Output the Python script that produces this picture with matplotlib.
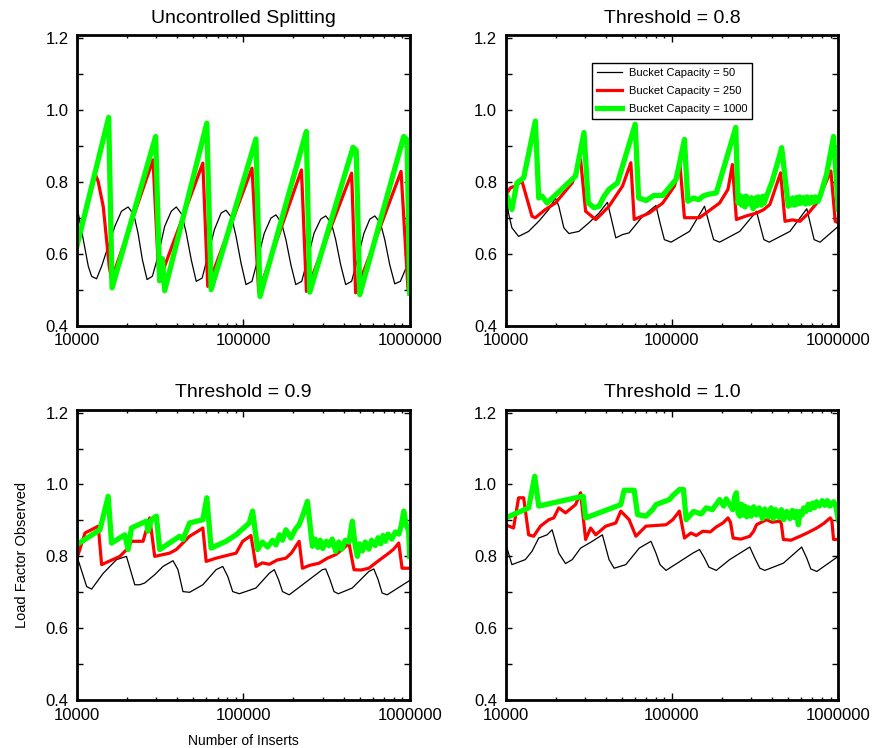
import matplotlib
matplotlib.use('Agg')
import matplotlib.pyplot as plt
from matplotlib.ticker import MultipleLocator, LogLocator, FuncFormatter, NullFormatter

plt.rcParams['font.family'] = ['Liberation Sans', 'DejaVu Sans']

titles = ['Uncontrolled Splitting', 'Threshold = 0.8', 'Threshold = 0.9', 'Threshold = 1.0']
capacities = [50, 250, 1000]

#//Uncontrolled splitting
tl_x_50 = [10000, 10910, 11690, 12240, 13110, 14060, 15410, 16880, 18510, 20290, 21950, 23280, 24720, 26370, 28380,
           30690, 33650, 36890, 39520, 42730, 45370, 48620, 52090, 56520, 61100, 67000, 73500, 78700, 85100, 90400,
           96800, 103700, 112700, 121900, 133600, 146500, 157000, 169800, 180200, 193100, 206600, 224400, 242700,
           266100, 291700, 312600, 338100, 358900, 384600, 412100, 447500, 484200, 530900, 575500, 616600, 666800,
           707900, 758600, 812800, 879000, 941900, 1000000]
tl_y_50 = [0.731, 0.639, 0.565, 0.537, 0.530, 0.565, 0.621, 0.676, 0.718, 0.730, 0.709, 0.657, 0.583, 0.528, 0.537,
           0.593, 0.676, 0.718, 0.730, 0.709, 0.657, 0.583, 0.523, 0.532, 0.593, 0.667, 0.713, 0.721, 0.700, 0.648,
           0.574, 0.514, 0.523, 0.583, 0.657, 0.699, 0.708, 0.685, 0.639, 0.569, 0.514, 0.523, 0.583, 0.657, 0.696,
           0.705, 0.685, 0.639, 0.569, 0.514, 0.523, 0.583, 0.657, 0.696, 0.705, 0.685, 0.639, 0.569, 0.516, 0.523,
           0.556, 0.565]
tl_x_250 = [10000, 12900, 13400, 14380, 15620, 16130, 28640, 31110, 57070, 61100, 112700, 123600, 223500, 239400,
            447500, 473000, 887000, 977000, 1000000]
tl_y_250 = [0.625, 0.820, 0.801, 0.731, 0.565, 0.528, 0.861, 0.523, 0.852, 0.509, 0.838, 0.493, 0.833, 0.495,
            0.824, 0.491, 0.829, 0.500, 0.490]
tl_x_1000 = [10000, 15500, 16250, 29700, 31400, 32600, 33650, 60300, 64000, 119000, 125900, 239000, 250700,
             456000, 477000, 501000, 920000, 964000, 1000000]
tl_y_1000 = [0.622, 0.979, 0.505, 0.926, 0.525, 0.586, 0.497, 0.963, 0.500, 0.919, 0.481, 0.940, 0.493,
             0.896, 0.887, 0.486, 0.926, 0.917, 0.490]

#//Threshold = 0.8
tr_x_50 = [10000, 10420, 10920, 11980, 13770, 15830, 18190, 19950, 20900, 22410, 24030, 27610, 31730, 36480, 40960,
           42890, 46000, 50470, 55340, 66680, 80200, 84800, 90100, 98900, 127600, 157100, 167000, 178200, 193600,
           255800, 322600, 338000, 357300, 384600, 512500, 646900, 677300, 716200, 778000, 1000000]
tr_y_50 = [0.779, 0.713, 0.672, 0.648, 0.662, 0.690, 0.723, 0.755, 0.732, 0.672, 0.656, 0.662, 0.686, 0.713, 0.743,
           0.704, 0.644, 0.653, 0.658, 0.704, 0.734, 0.686, 0.639, 0.632, 0.662, 0.732, 0.686, 0.639, 0.632,
           0.662, 0.718, 0.681, 0.639, 0.632, 0.662, 0.725, 0.686, 0.639, 0.632, 0.676]
tr_x_250 = [10000, 10670, 11430, 12550, 14420, 15110, 17380, 19950, 25170, 28260, 30290, 34830, 38210, 41900, 50470,
            56660, 59340, 73100, 88100, 103500, 112000, 119000, 146600, 193600, 217400, 231000, 244200, 280000,
            322600, 355000, 388200, 450400, 478600, 530000, 589000, 660000, 743000, 903000, 959000, 1000000]
tr_y_250 = [0.760, 0.783, 0.788, 0.802, 0.704, 0.700, 0.723, 0.741, 0.797, 0.862, 0.718, 0.695, 0.713, 0.732, 0.788,
            0.853, 0.695, 0.713, 0.741, 0.788, 0.844, 0.700, 0.700, 0.741, 0.779, 0.848, 0.695, 0.705,
            0.713, 0.722, 0.737, 0.825, 0.690, 0.694, 0.690, 0.712, 0.741, 0.830, 0.690, 0.686]
tr_x_1000 = [10000, 10920, 11710, 12850, 15110, 15830, 16580, 17770, 26360, 29610, 31450, 34000, 36480, 39100, 41900,
             47100, 60150, 63050, 70000, 78000, 88000, 106000, 119000, 124600, 135000, 145000, 153500, 165000, 184900,
             241900, 250000, 256000, 262000, 270000, 275000, 280000, 292000, 300000, 307700, 318000, 324000, 330000,
             345000, 352000, 358000, 370700, 400000, 430000, 457000, 501200, 510000, 520000, 535000, 545000, 560000,
             570000, 585000, 595000, 617000, 635000, 650000, 670000, 690000, 710000, 730000, 755000, 778000, 850000,
             937000, 1000000]
tr_y_1000 = [0.771, 0.723, 0.797, 0.811, 0.969, 0.755, 0.760, 0.741, 0.816, 0.937, 0.741, 0.728, 0.732, 0.760, 0.779,
             0.797, 0.960, 0.755, 0.748, 0.762, 0.762, 0.807, 0.918, 0.746, 0.755, 0.750, 0.760, 0.765, 0.769,
             0.951, 0.741, 0.762, 0.735, 0.758, 0.730, 0.760, 0.738, 0.756, 0.725, 0.755, 0.733, 0.758,
             0.735, 0.760, 0.740, 0.760, 0.800, 0.850, 0.895, 0.732, 0.752, 0.736, 0.755, 0.735, 0.756,
             0.738, 0.758, 0.740, 0.756, 0.738, 0.758, 0.740, 0.757, 0.742, 0.758, 0.745, 0.760, 0.820,
             0.926, 0.723]

#//Threshold = 0.9
bl_x_50 = [10000, 11430, 12240, 14380, 17280, 19830, 22250, 23850, 25550, 29310, 32880, 37760, 40450, 43350, 47510,
           57070, 68560, 75200, 80600, 86300, 94600, 119100, 143200, 153500, 162800, 172000, 188600, 226600, 298500,
           312600, 331900, 350800, 372400, 451700, 567800, 608500, 646200, 682800, 731500, 1000000]
bl_y_50 = [0.800, 0.716, 0.709, 0.753, 0.791, 0.800, 0.721, 0.721, 0.726, 0.749, 0.772, 0.788, 0.763, 0.702, 0.700,
           0.721, 0.763, 0.772, 0.744, 0.702, 0.696, 0.712, 0.753, 0.763, 0.735, 0.702, 0.693, 0.721, 0.763,
           0.765, 0.735, 0.702, 0.696, 0.712, 0.758, 0.765, 0.735, 0.698, 0.693, 0.733]
bl_x_250 = [10000, 11170, 13420, 14060, 18090, 20290, 21250, 24950, 27360, 29310, 36060, 39520, 47510, 53280, 57070,
            59760, 68560, 90400, 99100, 111100, 119100, 130000, 143200, 160000, 180200, 195000, 206600, 216400,
            226600, 250000, 285200, 320000, 358900, 395000, 431400, 462400, 510000, 567800, 650000, 748400, 800000,
            859100, 899500, 1000000]
bl_y_250 = [0.795, 0.865, 0.884, 0.777, 0.800, 0.823, 0.842, 0.842, 0.907, 0.800, 0.809, 0.819, 0.856, 0.870, 0.879,
            0.786, 0.795, 0.809, 0.842, 0.858, 0.772, 0.782, 0.778, 0.790, 0.795, 0.810, 0.828, 0.842,
            0.767, 0.775, 0.781, 0.795, 0.805, 0.820, 0.837, 0.763, 0.762, 0.767, 0.788, 0.809, 0.820,
            0.837, 0.767, 0.767]
bl_x_1000 = [10000, 13730, 15400, 16130, 19370, 20290, 21250, 26130, 26740, 28000, 30000, 31400, 41400, 43350, 47510,
             57070, 60300, 64000, 78700, 90400, 108600, 113700, 121900, 130000, 140000, 150000, 157000, 165000, 172000,
             180200, 193100, 205000, 216400, 230000, 242700, 260000, 270000, 280000, 290000, 300000, 315000, 327300,
             342000, 358900, 375000, 390000, 410000, 431400, 451700, 470000, 484200, 500000, 520000, 540000, 567800,
             590000, 620000, 645000, 670000, 690000, 714600, 740000, 780000, 820000, 859100, 890000, 920400, 950000,
             985000, 1000000]
bl_y_1000 = [0.833, 0.874, 0.967, 0.837, 0.860, 0.819, 0.879, 0.898, 0.870, 0.902, 0.912, 0.819, 0.856, 0.847, 0.893,
             0.902, 0.963, 0.823, 0.842, 0.860, 0.893, 0.926, 0.819, 0.840, 0.826, 0.845, 0.832, 0.860, 0.845,
             0.874, 0.851, 0.875, 0.888, 0.920, 0.953, 0.828, 0.848, 0.825, 0.845, 0.822, 0.842, 0.830,
             0.848, 0.814, 0.840, 0.820, 0.845, 0.840, 0.898, 0.830, 0.800, 0.835, 0.815, 0.840, 0.820,
             0.845, 0.830, 0.852, 0.835, 0.858, 0.842, 0.862, 0.848, 0.868, 0.862, 0.885, 0.926, 0.890,
             0.870, 0.800]

#//Threshold = 1.0
br_x_50 = [10000, 10920, 13150, 14420, 15830, 17780, 19050, 20900, 22940, 25170, 28260, 33250, 38210, 41900, 44950,
           52840, 63650, 74850, 80200, 84800, 92200, 116300, 133600, 146600, 157100, 167000, 184900, 222500, 294000,
           315200, 338000, 362200, 467700, 602600, 646900, 683900, 743000, 1000000]
br_y_50 = [0.837, 0.777, 0.791, 0.814, 0.851, 0.860, 0.874, 0.809, 0.780, 0.791, 0.823, 0.842, 0.860, 0.791, 0.767,
           0.777, 0.823, 0.842, 0.809, 0.777, 0.761, 0.791, 0.809, 0.819, 0.795, 0.770, 0.761, 0.791, 0.826,
           0.795, 0.767, 0.761, 0.781, 0.826, 0.795, 0.765, 0.758, 0.800]
br_x_250 = [10000, 11170, 11980, 12850, 13770, 14760, 16200, 18190, 19500, 20900, 22940, 26360, 28260, 30290, 32490,
            34830, 40000, 46000, 49300, 55340, 60750, 69800, 92200, 101200, 111000, 119000, 130000, 140000, 153500,
            170000, 185000, 202800, 217400, 225000, 233300, 260000, 294000, 310000, 322600, 345000, 370700, 400000,
            446700, 455000, 467700, 520000, 589000, 650000, 743000, 820000, 894800, 915000, 937000, 1000000]
br_y_250 = [0.888, 0.879, 0.963, 0.963, 0.860, 0.856, 0.884, 0.902, 0.907, 0.935, 0.921, 0.944, 0.977, 0.847, 0.879,
            0.860, 0.884, 0.893, 0.926, 0.902, 0.856, 0.884, 0.888, 0.902, 0.926, 0.851, 0.865, 0.858, 0.870,
            0.868, 0.882, 0.893, 0.907, 0.895, 0.851, 0.848, 0.856, 0.870, 0.888, 0.895, 0.902, 0.895,
            0.898, 0.890, 0.847, 0.845, 0.856, 0.865, 0.879, 0.892, 0.907, 0.900, 0.847, 0.847]
br_x_1000 = [10000, 13770, 14970, 15830, 28260, 29310, 30290, 49300, 51640, 59340, 62200, 69800, 76600, 80200, 96600,
             101200, 111000, 117400, 121800, 135000, 150000, 160900, 175000, 193600, 205000, 212000, 222500, 232000,
             238000, 244200, 250000, 255800, 262000, 268000, 275000, 282000, 290000, 300000, 310000, 322600, 335000,
             350000, 362000, 380000, 395000, 406400, 420000, 440000, 455000, 470000, 490000, 512500, 530000, 545000,
             560000, 575600, 590000, 605000, 620000, 640000, 660000, 677300, 700000, 720000, 740000, 770000, 800000,
             830000, 860000, 890000, 937000, 960000, 985000, 1000000]
br_y_1000 = [0.907, 0.935, 1.023, 0.940, 0.966, 0.967, 0.907, 0.944, 0.984, 0.984, 0.916, 0.912, 0.930, 0.944, 0.958,
             0.969, 0.986, 0.986, 0.902, 0.925, 0.918, 0.935, 0.930, 0.958, 0.940, 0.960, 0.944, 0.930,
             0.965, 0.977, 0.920, 0.912, 0.945, 0.915, 0.940, 0.910, 0.935, 0.912, 0.938, 0.915, 0.935,
             0.905, 0.932, 0.910, 0.935, 0.905, 0.930, 0.908, 0.930, 0.902, 0.925, 0.905, 0.928, 0.908,
             0.925, 0.888, 0.925, 0.915, 0.935, 0.925, 0.945, 0.930, 0.948, 0.935, 0.952, 0.940, 0.955,
             0.942, 0.955, 0.940, 0.952, 0.945, 0.920, 0.902]

panels = [
    [(tl_x_50, tl_y_50), (tl_x_250, tl_y_250), (tl_x_1000, tl_y_1000)],
    [(tr_x_50, tr_y_50), (tr_x_250, tr_y_250), (tr_x_1000, tr_y_1000)],
    [(bl_x_50, bl_y_50), (bl_x_250, bl_y_250), (bl_x_1000, bl_y_1000)],
    [(br_x_50, br_y_50), (br_x_250, br_y_250), (br_x_1000, br_y_1000)],
]

colours = ['#000000', '#ff0000', '#00ff00']
widths = [0.9, 2.3, 3.8]

fig, axes = plt.subplots(2, 2, figsize=(8.75, 7.48), dpi=100)
fig.subplots_adjust(left=0.088, right=0.958, bottom=0.064, top=0.953, wspace=0.288, hspace=0.29)

for ax, title, series in zip(axes.flat, titles, panels):
    for (x, y), c, lw, cap in zip(series, colours, widths, capacities):
        ax.plot(x, y, color=c, linewidth=lw, label='Bucket Capacity = %d' % cap)
    ax.set_xscale('log')
    ax.set_xlim(10000, 1000000)
    ax.set_ylim(0.4, 1.208)
    ax.set_title(title, fontsize=14, pad=9)
    ax.yaxis.set_major_locator(MultipleLocator(0.2))
    ax.yaxis.set_minor_locator(MultipleLocator(0.1))
    ax.yaxis.set_major_formatter(FuncFormatter(lambda v, p: '%.1f' % v))
    ax.xaxis.set_major_locator(LogLocator(base=10))
    ax.xaxis.set_minor_locator(LogLocator(base=10, subs=range(2, 10)))
    ax.xaxis.set_major_formatter(FuncFormatter(lambda v, p: '%d' % v))
    ax.xaxis.set_minor_formatter(NullFormatter())
    ax.tick_params(which='both', direction='in', top=True, right=True, width=1, labelsize=12)
    ax.tick_params(axis='x', which='major', length=5, pad=5.5)
    ax.tick_params(axis='x', which='minor', length=2.5)
    ax.tick_params(axis='y', which='both', length=4, pad=6)
    for s in ax.spines.values():
        s.set_linewidth(2)

leg = axes[0, 1].legend(loc='upper left', bbox_to_anchor=(0.259, 0.905), borderaxespad=0, fontsize=8,
                        handlelength=2.3, labelspacing=0.72, fancybox=False, framealpha=1,
                        edgecolor='k', borderpad=0.45, handletextpad=0.6)
leg.get_frame().set_linewidth(1)

axes[1, 0].set_xlabel('Number of Inserts', fontsize=10, labelpad=8)
axes[1, 0].set_ylabel('Load Factor Observed', fontsize=10.5, labelpad=12)

plt.savefig('out.png', dpi=100)
